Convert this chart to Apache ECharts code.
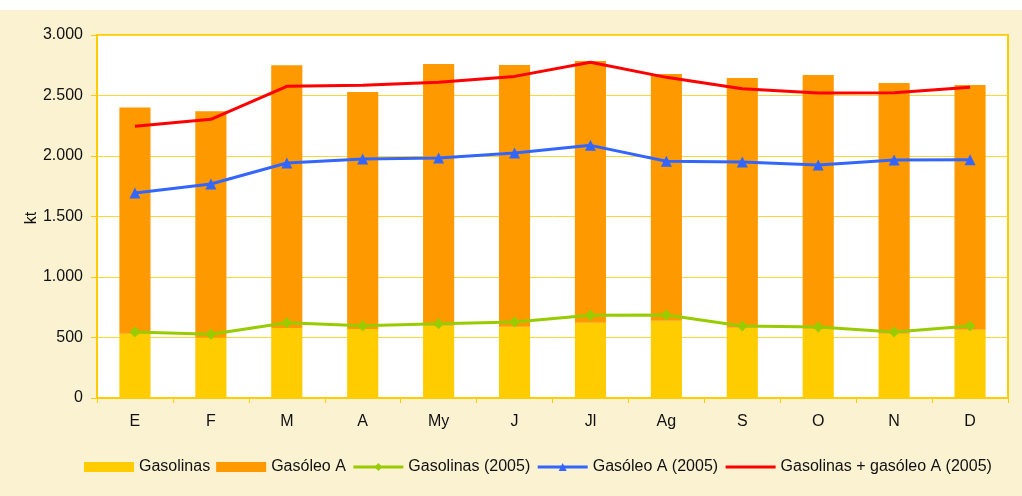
<!DOCTYPE html>
<html>
<head>
<meta charset="utf-8">
<script src="https://cdn.jsdelivr.net/npm/echarts@6/dist/echarts.min.js"></script>
<style>
  html, body { margin: 0; padding: 0; background: #fff; }
  #chart { position: absolute; left: 0; top: 10px; width: 1022px; height: 486px; }
</style>
</head>
<body>
<div id="chart"></div>
<script>
// meses
const months = ['E', 'F', 'M', 'A', 'My', 'J', 'Jl', 'Ag', 'S', 'O', 'N', 'D'];
// barras apiladas (kt)
const gasolinas = [531, 498, 578, 570, 598, 589, 622, 639, 581, 573, 531, 564];
const gasoleoA = [1869, 1872, 2172, 1959, 2162, 2163, 2163, 2039, 2064, 2096, 2072, 2023];
// lineas 2005
const gasolinas2005 = [545, 526, 622, 598, 614, 628, 683, 686, 595, 587, 545, 595];
const gasoleoA2005 = [1694, 1769, 1942, 1975, 1983, 2025, 2088, 1956, 1950, 1926, 1967, 1969];
const total2005 = [2245, 2303, 2576, 2584, 2609, 2658, 2774, 2650, 2556, 2520, 2523, 2568];
const yTicks = [0, 500, 1000, 1500, 2000, 2500, 3000];

const fmt = (v) => String(v).replace(/\B(?=(\d{3})+(?!\d))/g, '.');
const font = 'Liberation Sans, Arial, sans-serif';

const chart = echarts.init(document.getElementById('chart'));
const option = {
  backgroundColor: '#FBF2D2',
  animation: false,
  textStyle: { fontFamily: font },
  grid: {
    left: 97,
    right: 14,
    top: 25,
    bottom: 98,
    show: true,
    backgroundColor: '#fff',
    borderColor: '#FFCC00',
    borderWidth: 2,
  },
  // titulo del eje y
  graphic: [
    {
      type: 'text',
      x: 32,
      y: 208,
      rotation: Math.PI / 2,
      style: {
        text: 'kt',
        font: '16px ' + font,
        fill: '#111',
        align: 'center',
        verticalAlign: 'middle',
      },
    },
  ],
  legend: {
    left: 79,
    top: 444,
    itemWidth: 50,
    itemHeight: 10,
    itemGap: 6,
    textStyle: { fontSize: 16, color: '#111', fontFamily: font },
    lineStyle: { width: 3 },
    data: [
      { name: 'Gasolinas', icon: 'rect' },
      { name: 'Gasóleo A', icon: 'rect' },
      'Gasolinas (2005)',
      'Gasóleo A (2005)',
      { name: 'Gasolinas + gasóleo A (2005)', itemStyle: { opacity: 0 } },
    ],
  },
  xAxis: {
    type: 'category',
    data: months,
    axisLine: { lineStyle: { color: '#FFCC00', width: 2 } },
    axisTick: { show: true, length: 5, lineStyle: { color: '#FFCC00' } },
    axisLabel: { fontSize: 16, color: '#111', margin: 16 },
  },
  yAxis: {
    type: 'value',
    min: yTicks[0],
    max: yTicks[yTicks.length - 1],
    interval: 500,
    axisLine: { show: true, lineStyle: { color: '#FFCC00', width: 2 } },
    axisTick: { show: true, length: 6, lineStyle: { color: '#FFCC00' } },
    axisLabel: { fontSize: 16, color: '#111', margin: 14, formatter: fmt },
    splitLine: { lineStyle: { color: '#FFD633', width: 1 } },
  },
  series: [
    {
      name: 'Gasolinas',
      type: 'bar',
      stack: 'total',
      barWidth: '41%',
      data: gasolinas,
      itemStyle: { color: '#FFCC00' },
    },
    {
      name: 'Gasóleo A',
      type: 'bar',
      stack: 'total',
      data: gasoleoA,
      itemStyle: { color: '#FF9900' },
    },
    {
      name: 'Gasolinas (2005)',
      type: 'line',
      data: gasolinas2005,
      symbol: 'diamond',
      symbolSize: 11,
      lineStyle: { color: '#99CC00', width: 3 },
      itemStyle: { color: '#99CC00' },
    },
    {
      name: 'Gasóleo A (2005)',
      type: 'line',
      data: gasoleoA2005,
      symbol: 'triangle',
      symbolSize: 11,
      lineStyle: { color: '#3366FF', width: 3 },
      itemStyle: { color: '#3366FF' },
    },
    {
      name: 'Gasolinas + gasóleo A (2005)',
      type: 'line',
      data: total2005,
      symbol: 'none',
      lineStyle: { color: '#FF0000', width: 3 },
      itemStyle: { color: '#FF0000' },
    },
  ],
};
chart.setOption(option);
</script>
</body>
</html>
